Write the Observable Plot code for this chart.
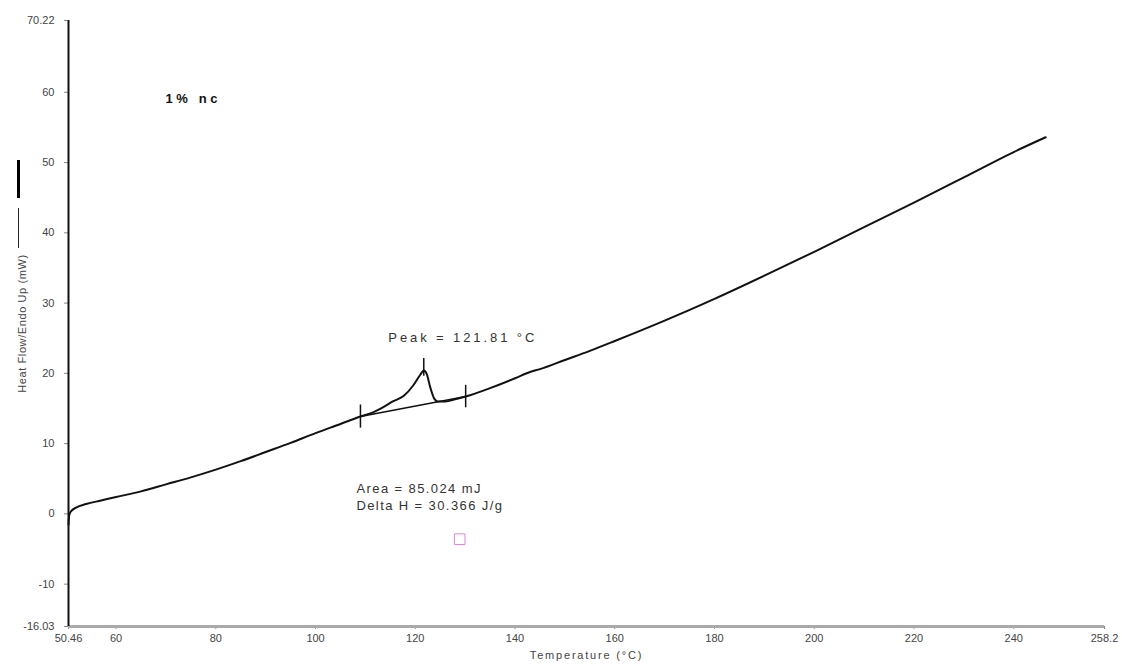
<!DOCTYPE html>
<html>
<head>
<meta charset="utf-8">
<script src="https://cdn.jsdelivr.net/npm/d3@7"></script>
<script src="https://cdn.jsdelivr.net/npm/@observablehq/plot@0.6"></script>
<style>
  html, body { margin: 0; padding: 0; background: #fff; }
  #wrap { position: relative; width: 1122px; height: 666px; font-family: "Liberation Sans", Arial, sans-serif; }
  .sw { position: absolute; background: #000; }
  svg .title-note text { letter-spacing: 3.6px; }
  svg .peak-note text { letter-spacing: 2.9px; }
  svg .area-note text { letter-spacing: 1.4px; }
  svg [aria-label="x-axis label"] text { letter-spacing: 1.8px; }
  svg [aria-label="y-axis label"] text { letter-spacing: 0.6px; }
</style>
</head>
<body>
<div id="wrap">
  <div class="sw" style="left:17px; top:160px; width:3px; height:38px;"></div>
  <div class="sw" style="left:18px; top:208px; width:1px; height:40px; background:#222;"></div>
</div>
<script>
// Heat flow curve (Temperature °C, Heat Flow mW)
const temperature = [50.46, 50.6, 51, 52, 54, 57, 60, 65, 70, 75, 80, 85, 90, 95, 100, 105, 109.0, 111, 113.6, 115.5, 117.7, 119.5, 121.0, 121.7, 122.3, 123.0, 123.8, 124.5, 126, 128, 130.1, 135, 140, 143, 145, 150, 155, 160, 170, 180, 190, 200, 210, 220, 230, 240, 246.4];
const heatFlow    = [-1.5, -0.2, 0.4, 0.9, 1.4, 1.9, 2.4, 3.2, 4.2, 5.2, 6.3, 7.5, 8.8, 10.1, 11.5, 12.8, 13.86, 14.3, 15.2, 16.0, 16.8, 18.2, 19.8, 20.4, 19.9, 18.0, 16.4, 16.0, 16.0, 16.3, 16.7, 17.9, 19.3, 20.2, 20.6, 21.9, 23.2, 24.6, 27.5, 30.6, 33.9, 37.3, 40.8, 44.3, 47.9, 51.5, 53.6];

// Integration baseline
const baseT = [109.0, 130.1];
const baseV = [13.86, 16.7];

// Vertical markers (onset, peak, end)
const markT  = [109.0, 121.7, 130.1];
const markLo = [12.2, 19.6, 15.1];
const markHi = [15.5, 22.1, 18.3];

// Axis ticks
const xTicks = [50.46, 60, 80, 100, 120, 140, 160, 180, 200, 220, 240, 258.2];
const yTicks = [70.22, 60, 50, 40, 30, 20, 10, 0, -10, -16.03];
const xDomain = [50.46, 258.2];
const yDomain = [-16.03, 70.22];

// Annotations
const titleNote = [{t: 69.9, v: 59.1, text: "1% nc"}];
const peakNote = [{t: 114.6, v: 25.1, text: "Peak = 121.81 °C"}];
const areaNotes = [
  {t: 108.2, v: 3.6, text: "Area = 85.024 mJ"},
  {t: 108.2, v: 1.2, text: "Delta H = 30.366 J/g"}
];
const marker = [{t: 128.9, v: -3.6}];

const curve = temperature.map((t, i) => ({t, v: heatFlow[i]}));
const base = baseT.map((t, i) => ({t, v: baseV[i]}));
const marks = markT.map((t, i) => ({t, lo: markLo[i], hi: markHi[i]}));

const chart = Plot.plot({
  width: 1122,
  height: 666,
  marginLeft: 68,
  marginRight: 18,
  marginTop: 20,
  marginBottom: 40,
  style: {fontFamily: "Liberation Sans, Arial, sans-serif", fontSize: "11px", color: "#444", background: "#fff"},
  x: {domain: xDomain},
  y: {domain: yDomain},
  marks: [
    Plot.axisY({ticks: yTicks, tickFormat: d => String(d), tickSize: 4, tickPadding: 10, stroke: "#888",
      label: "Heat Flow/Endo Up (mW)", labelAnchor: "center", labelArrow: "none", labelOffset: 50, fontSize: 11}),
    Plot.axisX({ticks: xTicks, tickFormat: d => String(d), tickSize: 3, tickPadding: 5, stroke: "#888",
      label: "Temperature (°C)", labelAnchor: "center", labelArrow: "none", labelOffset: 32, fontSize: 11}),
    Plot.ruleY([yDomain[0]], {stroke: "#aaa", strokeWidth: 3}),
    Plot.ruleX([xDomain[0]], {stroke: "#111", strokeWidth: 2}),
    Plot.line(base, {x: "t", y: "v", stroke: "#111", strokeWidth: 1.5}),
    Plot.ruleX(marks, {x: "t", y1: "lo", y2: "hi", stroke: "#111", strokeWidth: 1.5}),
    Plot.line(curve, {x: "t", y: "v", stroke: "#111", strokeWidth: 2, curve: "monotone-x"}),
    Plot.text(titleNote, {x: "t", y: "v", text: "text", textAnchor: "start", fill: "#111",
      fontWeight: "bold", fontSize: 13, className: "title-note"}),
    Plot.text(peakNote, {x: "t", y: "v", text: "text", textAnchor: "start", fill: "#333",
      fontSize: 13, className: "peak-note"}),
    Plot.text(areaNotes, {x: "t", y: "v", text: "text", textAnchor: "start", fill: "#333",
      fontSize: 13, className: "area-note"}),
    Plot.dot(marker, {x: "t", y: "v", symbol: "square", r: 6, stroke: "#d58ad5", fill: "none", strokeWidth: 1})
  ]
});
document.getElementById("wrap").prepend(chart);
</script>
</body>
</html>
